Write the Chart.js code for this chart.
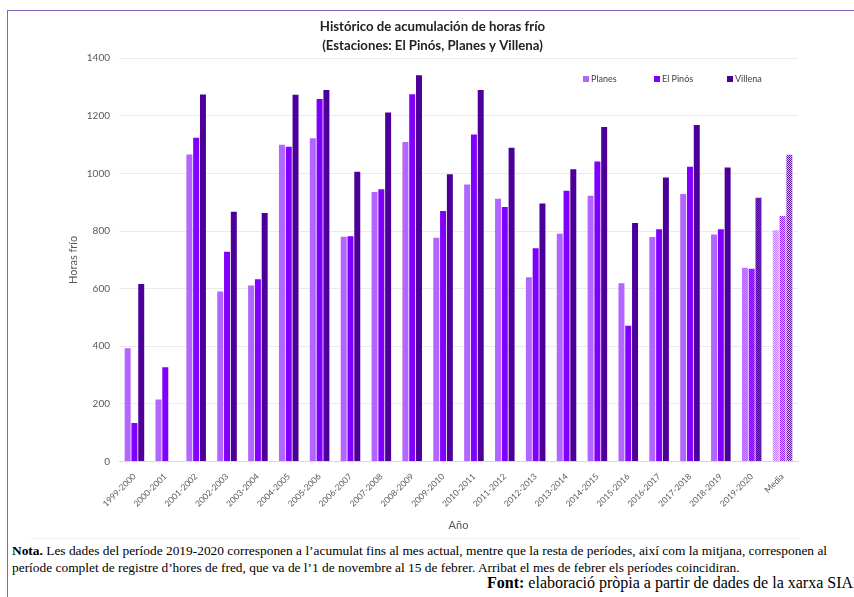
<!DOCTYPE html>
<html>
<head>
<meta charset="utf-8">
<script src="https://cdn.jsdelivr.net/npm/chart.js@4.4.1/dist/chart.umd.min.js"></script>
<style>
  html,body{margin:0;padding:0;background:#fff;width:854px;height:597px;overflow:hidden;position:relative;}
  #frame{position:absolute;left:7px;top:10px;width:860px;height:600px;border-left:1.5px solid #8c62b5;border-top:1.5px solid #8c62b5;}
  #wrap{position:absolute;left:8px;top:11px;width:846px;height:527px;}
  #sep{position:absolute;left:30px;top:538px;width:770px;height:1px;background:#f0f0f0;}
  #legend{position:absolute;top:73px;left:582px;font-family:Lato,"Open Sans",sans-serif;font-size:9px;color:#404040;}
  #legend span.item{position:absolute;white-space:nowrap;}
  #legend i{display:inline-block;width:6px;height:6px;margin-right:2px;vertical-align:0px;}
  #nota{position:absolute;left:12px;top:542px;width:842px;font-family:"Liberation Serif","Times New Roman",serif;font-size:13.4px;line-height:17px;color:#000;white-space:nowrap;}
  #font{position:absolute;left:487px;top:574px;white-space:nowrap;font-family:"Liberation Serif","Times New Roman",serif;font-size:16px;color:#000;}
</style>
</head>
<body>
<div id="frame"></div>
<div id="wrap"><canvas id="c"></canvas></div>
<div id="sep"></div>
<div id="legend"></div>
<div id="nota"><b>Nota.</b> Les dades del període 2019-2020 corresponen a l’acumulat fins al mes actual, mentre que la resta de períodes, així com la mitjana, corresponen al<br>període complet de registre d’hores de fred, que va de l’1 de novembre al 15 de febrer. Arribat el mes de febrer els períodes coincidiran.</div>
<div id="font"><b>Font:</b> elaboració pròpia a partir de dades de la xarxa SIAR</div>
<script>
const categories = ["1999-2000","2000-2001","2001-2002","2002-2003","2003-2004","2004-2005","2005-2006","2006-2007","2007-2008","2008-2009","2009-2010","2010-2011","2011-2012","2012-2013","2013-2014","2014-2015","2015-2016","2016-2017","2017-2018","2018-2019","2019-2020","Media"];
const planes  = [393, 215, 1066, 590, 611, 1100, 1122, 780, 936, 1109, 777, 962, 912, 640, 791, 923, 619, 779, 929, 788, 673, 803];
const elPinos = [134, 327, 1124, 728, 633, 1093, 1259, 782, 945, 1275, 870, 1135, 884, 740, 940, 1042, 471, 806, 1023, 806, 669, 852];
const villena = [616, null, 1274, 867, 863, 1273, 1290, 1006, 1212, 1341, 997, 1290, 1089, 896, 1015, 1161, 828, 986, 1168, 1021, 916, 1065];
const seriesNames = ["Planes","El Pinós","Villena"];
const seriesColors = ["#b366ff","#8000ff","#4c0099"];

function mix(hex, f){
  const n=parseInt(hex.slice(1),16);
  const r=(n>>16)&255,g=(n>>8)&255,b=n&255;
  const m=v=>Math.round(v+(255-v)*f);
  return `rgb(${m(r)},${m(g)},${m(b)})`;
}
function checker(a,b,s){
  const c=document.createElement('canvas'); c.width=2*s; c.height=2*s;
  const x=c.getContext('2d');
  x.fillStyle=a; x.fillRect(0,0,2*s,2*s);
  x.fillStyle=b; x.fillRect(0,0,s,s); x.fillRect(s,s,s,s);
  return x.createPattern(c,'repeat');
}
function fills(color){
  return categories.map((c,i)=>{
    if(c==="2019-2020") return checker(color, mix(color,0.25), 1);
    if(c==="Media") return checker(mix(color,0.1), mix(color,0.75), 1);
    return color;
  });
}
const data = [planes, elPinos, villena];

// legend
const lg=document.getElementById('legend');
const lx=[1,72,145];
seriesNames.forEach((n,i)=>{
  const s=document.createElement('span'); s.className='item'; s.style.left=lx[i]+'px';
  s.innerHTML=`<i style="background:${seriesColors[i]}"></i>${n}`; lg.appendChild(s);
});

new Chart(document.getElementById('c'),{
  type:'bar',
  data:{
    labels:categories,
    datasets:data.map((d,i)=>({label:seriesNames[i],data:d,backgroundColor:fills(seriesColors[i]),borderWidth:0,categoryPercentage:0.66,barPercentage:0.88}))
  },
  options:{
    responsive:true, maintainAspectRatio:false, animation:false, devicePixelRatio:1,
    layout:{padding:{left:59,right:56,top:0,bottom:6}},
    plugins:{
      legend:{display:false},
      tooltip:{enabled:false},
      title:{display:true,text:["Histórico de acumulación de horas frío","(Estaciones: El Pinós, Planes y Villena)"],
        font:{family:"Lato, 'Open Sans', sans-serif",size:13.2,weight:'bold',lineHeight:1.45},color:'#222',padding:{top:6,bottom:3}}
    },
    scales:{
      x:{
        grid:{display:false},
        border:{color:'#d9d9d9'},
        ticks:{maxRotation:45,minRotation:45,autoSkip:false,font:{family:"Lato, 'Open Sans', sans-serif",size:8.5},color:'#595959',padding:2},
        title:{display:true,text:'Año',font:{family:"Lato, 'Open Sans', sans-serif",size:11},color:'#595959',padding:{top:8,bottom:0}}
      },
      y:{
        min:0,max:1400,
        afterFit:s=>{s.width=52;},
        grid:{color:'#ebebeb',drawTicks:false},
        border:{display:false},
        ticks:{stepSize:200,padding:9,font:{family:"Lato, 'Open Sans', sans-serif",size:10},color:'#595959',callback:v=>String(v)},
        title:{display:true,text:'Horas frío',font:{family:"Lato, 'Open Sans', sans-serif",size:11},color:'#595959',padding:0}
      }
    }
  }
});
</script>
</body>
</html>
